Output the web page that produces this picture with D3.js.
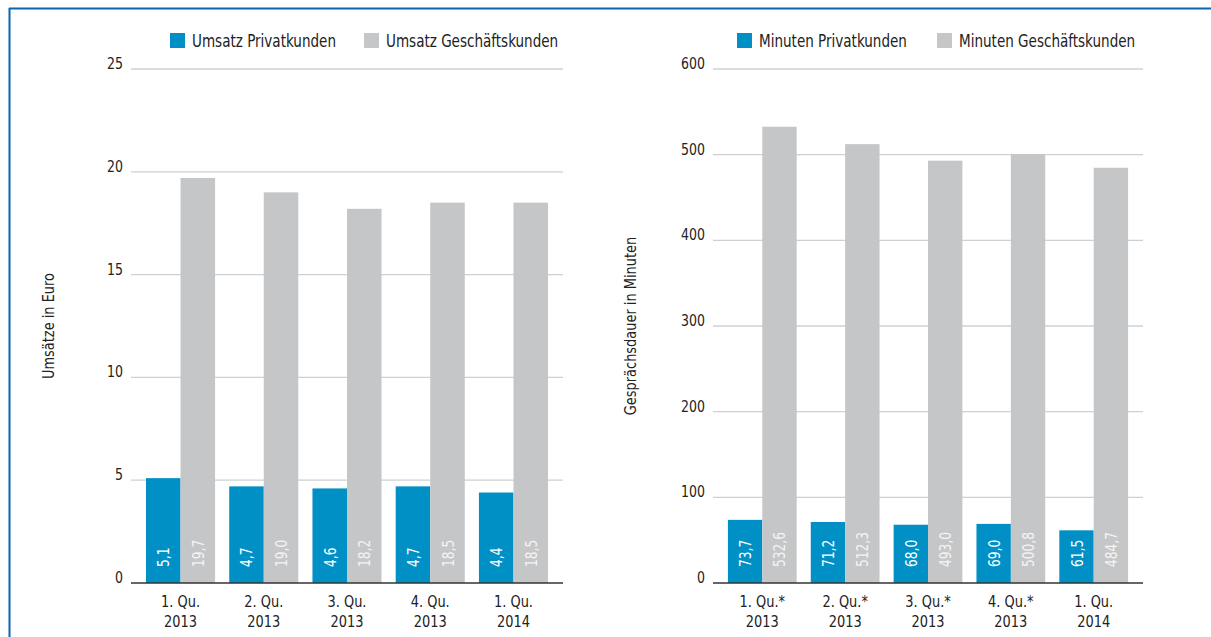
<!DOCTYPE html>
<html>
<head>
<meta charset="utf-8">
<script src="https://cdn.jsdelivr.net/npm/d3@7"></script>
<style>
  body { margin: 0; background: #fff; }
  svg { display: block; font-family: "DejaVu Sans Condensed", "Liberation Sans Narrow", sans-serif; }
</style>
</head>
<body>
<svg width="1211" height="637"></svg>
<script>
// Daten
const quartale = [["1. Qu.", "2013"], ["2. Qu.", "2013"], ["3. Qu.", "2013"], ["4. Qu.", "2013"], ["1. Qu.", "2014"]];
const quartaleMin = [["1. Qu.*", "2013"], ["2. Qu.*", "2013"], ["3. Qu.*", "2013"], ["4. Qu.*", "2013"], ["1. Qu.", "2014"]];
const umsatzPrivat = [5.1, 4.7, 4.6, 4.7, 4.4];
const umsatzGeschaeft = [19.7, 19.0, 18.2, 18.5, 18.5];
const minutenPrivat = [73.7, 71.2, 68.0, 69.0, 61.5];
const minutenGeschaeft = [532.6, 512.3, 493.0, 500.8, 484.7];
const ticksUmsatz = [0, 5, 10, 15, 20, 25];
const ticksMinuten = [0, 100, 200, 300, 400, 500, 600];

const blau = "#0090c5";
const grau = "#c5c6c8";
const fmt = v => d3.format(".1f")(v).replace(".", ",");

const svg = d3.select("svg");

// schmale Schrift nachbilden: Text horizontal stauchen
function schrift(parent, x, y, str, size, sx, opt = {}) {
  return parent.append("text")
    .attr("transform", `translate(${x},${y})` + (opt.rot ? ` rotate(${opt.rot})` : "") + ` scale(${sx},1)`)
    .attr("text-anchor", opt.anchor || "start")
    .style("font-size", size + "px")
    .style("fill", opt.fill || "#222")
    .text(str);
}

// Rahmen oben und links
svg.append("line").attr("x1", 9).attr("x2", 1211).attr("y1", 8.5).attr("y2", 8.5)
  .attr("stroke", "#0a64b0").attr("stroke-width", 2);
svg.append("line").attr("x1", 9.5).attr("x2", 9.5).attr("y1", 8).attr("y2", 637)
  .attr("stroke", "#0a64b0").attr("stroke-width", 2);

function zeichneChart(opt) {
  const g = svg.append("g");
  const y = d3.scaleLinear().domain([0, opt.max]).range([583, 69]);
  const x = d3.scaleBand().domain(d3.range(opt.labels.length))
    .range([opt.x0, opt.x1]).paddingInner(0.17).paddingOuter(0.18);
  const x2 = d3.scaleBand().domain([0, 1]).range([0, x.bandwidth()]);

  // Gitterlinien
  g.selectAll(".grid").data(opt.ticks.filter(t => t > 0)).enter().append("line")
    .attr("x1", opt.x0).attr("x2", opt.x1)
    .attr("y1", d => y(d)).attr("y2", d => y(d))
    .attr("stroke", "#cfd0d2").attr("stroke-width", 1.3);

  // Y-Achse Beschriftung
  opt.ticks.forEach(t => schrift(g, opt.x0 - 8, y(t) + 0, t, 16, 0.87, { anchor: "end" }));

  schrift(g, opt.titelX, 326, opt.titel, 16, 0.9, { rot: -90, anchor: "middle" });

  const serien = [opt.a, opt.b];
  const farben = [blau, grau];
  const textFarben = ["#ffffff", "#f4f4f4"];

  serien.forEach((werte, s) => {
    g.selectAll(".bar" + s).data(werte).enter().append("rect")
      .attr("x", (d, i) => x(i) + x2(s))
      .attr("y", d => y(d))
      .attr("width", x2.bandwidth())
      .attr("height", d => y(0) - y(d))
      .attr("fill", farben[s]);

    werte.forEach((d, i) => schrift(g, x(i) + x2(s) + x2.bandwidth() / 2 + 6, 567, fmt(d), 16, 0.85,
      { rot: -90, fill: textFarben[s] }));
  });

  // Nulllinie
  g.append("line").attr("x1", opt.x0).attr("x2", opt.x1)
    .attr("y1", y(0)).attr("y2", y(0))
    .attr("stroke", "#333").attr("stroke-width", 1.5);

  // X-Achse
  opt.labels.forEach((l, i) => {
    const cx = x(i) + x.bandwidth() / 2;
    schrift(g, cx, 607, l[0], 16, 0.9, { anchor: "middle" });
    schrift(g, cx, 627, l[1], 16, 0.9, { anchor: "middle" });
  });

  // Legende
  opt.legende.forEach((lg, i) => {
    g.append("rect").attr("x", lg.x).attr("y", 33).attr("width", 15).attr("height", 15)
      .attr("fill", farben[i]);
    schrift(g, lg.x + 22, 47, lg.text, 17, 0.885);
  });
}

zeichneChart({
  x0: 131, x1: 563, max: 25, ticks: ticksUmsatz, labels: quartale,
  a: umsatzPrivat, b: umsatzGeschaeft,
  titel: "Umsätze in Euro", titelX: 54,
  legende: [{ x: 170, text: "Umsatz Privatkunden" }, { x: 364, text: "Umsatz Geschäftskunden" }]
});

zeichneChart({
  x0: 713, x1: 1143, max: 600, ticks: ticksMinuten, labels: quartaleMin,
  a: minutenPrivat, b: minutenGeschaeft,
  titel: "Gesprächsdauer in Minuten", titelX: 636,
  legende: [{ x: 737, text: "Minuten Privatkunden" }, { x: 937, text: "Minuten Geschäftskunden" }]
});
</script>
</body>
</html>
